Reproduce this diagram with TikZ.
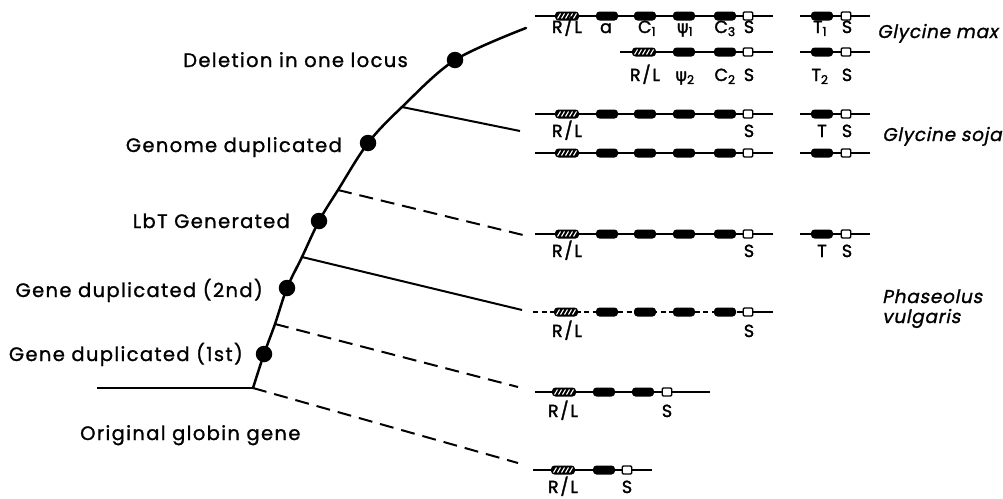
\documentclass[tikz,border=0pt]{standalone}
\usepackage{fontspec}
\setmainfont{Poppins}
\newfontfamily\grk[FakeBold=1.5]{DejaVu Sans}
\newfontfamily\stfont[FakeBold=1.2, LetterSpace=7]{Poppins}
\newfontfamily\glfont[FakeBold=1.8, LetterSpace=10]{Poppins}
\newfontfamily\spfont[FakeSlant=0.2, FakeBold=1.2, LetterSpace=4]{Poppins}
\begin{document}
\begin{tikzpicture}[x=1pt,y=-1pt,
  curve/.style={line width=2.5pt},
  branch/.style={line width=2pt},
  dashbranch/.style={branch, dash pattern=on 14pt off 8pt},
  rowline/.style={line width=1.3pt},
  gene/.style={fill=black, rounded corners=3.5pt, minimum width=22pt, minimum height=9pt, inner sep=0pt, outer sep=0pt},
  hgene/.style={gene, minimum width=24pt, path picture={
      \foreach \k in {-2,...,2}{\draw[white, line width=1.1pt]
        ([xshift=\k*4pt-1.5pt, yshift=-2.5pt]path picture bounding box.center) -- ++(3pt,5pt);}}},
  sgene/.style={draw, line width=1.4pt, fill=white, rounded corners=1.2pt, minimum width=9.5pt, minimum height=8pt, inner sep=0pt},
  dot/.style={circle, fill=black, minimum size=16.5pt, inner sep=0pt},
  glab/.style={font=\glfont\fontsize{17.5}{17.5}\selectfont, inner sep=0pt, anchor=base},
  stage/.style={font=\stfont\fontsize{19.5}{19.5}\selectfont, inner sep=0pt, anchor=base east},
  species/.style={font=\spfont\fontsize{18.5}{20}\selectfont, inner sep=0pt, anchor=base west, align=left}
]
\useasboundingbox (0,0) rectangle (1003,498);

% ---- tree ----
\coordinate (h0) at (97,388);
\coordinate (root) at (253,388);
\coordinate (d1) at (264,354);
\coordinate (b4) at (275,324);
\coordinate (d2) at (287,288);
\coordinate (b3) at (302,257);
\coordinate (d3) at (319,221);
\coordinate (b2) at (338,190);
\coordinate (d4) at (368,143);
\coordinate (b1) at (402,107);
\coordinate (d5) at (455,60);
\coordinate (cend) at (526,28);
\draw[curve, line cap=round] plot[smooth, tension=0.55] coordinates {(root) (d1) (b4) (d2) (b3) (d3) (b2) (d4) (b1) (d5) (cend)};
\draw[curve] (h0) -- (root);

\coordinate (e1) at (520,131);
\coordinate (e2) at (523,235);
\coordinate (e3) at (522,310);
\coordinate (e4) at (518,387);
\coordinate (e5) at (518,463);
\draw[branch] (b1) -- (e1);
\draw[dashbranch] (b2) -- (e2);
\draw[branch] (b3) -- (e3);
\draw[dashbranch] (b4) -- (e4);
\draw[dashbranch] (root) -- (e5);

\foreach \d in {d1,d2,d3,d4,d5} \node[dot] (n\d) at (\d) {};

% ---- stage labels ----
\node[stage] (s5) at (408,67) {Deletion in one locus};
\node[stage] (s4) at (342,152) {Genome duplicated};
\node[stage] (s3) at (290,228) {LbT Generated};
\node[stage] (s2) at (263,297) {Gene duplicated (2nd)};
\node[stage] (s1) at (243,361) {Gene duplicated (1st)};
\node[stage, anchor=base west] (s0) at (80,440) {Original globin gene};

% ---- full rows ----
\foreach \r/\y in {1/16,3/114,4/153,5/234}{
  \coordinate (r\r a) at (535,\y);
  \coordinate (r\r b) at (773,\y);
  \draw[rowline] (r\r a) -- (r\r b);
  \node[hgene] (r\r h) at (567,\y) {};
  \foreach \i/\x in {1/607,2/645,3/684,4/725} \node[gene] (r\r g\i) at (\x,\y) {};
  \node[sgene] (r\r s) at (748,\y) {};
}
% T sections
\foreach \r/\y in {1/16,2/52,3/114,4/153,5/234}{
  \coordinate (t\r a) at (800,\y);
  \coordinate (t\r b) at (870,\y);
  \draw[rowline] (t\r a) -- (t\r b);
  \node[gene] (t\r g) at (822,\y) {};
  \node[sgene] (t\r s) at (846,\y) {};
}
% row 2
\coordinate (r2a) at (620,52);
\coordinate (r2b) at (773,52);
\draw[rowline] (r2a) -- (r2b);
\node[hgene] (r2h) at (644,52) {};
\node[gene] (r2g1) at (684,52) {};
\node[gene] (r2g2) at (725,52) {};
\node[sgene] (r2s) at (748,52) {};
% row 6 (Phaseolus)
\coordinate (r6a) at (533,312);
\coordinate (r6m) at (737,312);
\coordinate (r6b) at (773,312);
\draw[rowline, dash pattern=on 5pt off 3.5pt] (r6a) -- (r6m);
\draw[rowline] (r6m) -- (r6b);
\node[hgene] (r6h) at (566,312) {};
\foreach \i/\x in {1/607,2/645,3/684,4/725} \node[gene] (r6g\i) at (\x,312) {};
\node[sgene] (r6s) at (748,312) {};
% row 7
\coordinate (r7a) at (535,392);
\coordinate (r7b) at (710,392);
\draw[rowline] (r7a) -- (r7b);
\node[hgene] (r7h) at (564,392) {};
\node[gene] (r7g1) at (604,392) {};
\node[gene] (r7g2) at (643,392) {};
\node[sgene] (r7s) at (667,392) {};
% row 8
\coordinate (r8a) at (533,470);
\coordinate (r8b) at (652,470);
\draw[rowline] (r8a) -- (r8b);
\node[hgene] (r8h) at (563,470) {};
\node[gene] (r8g1) at (604,470) {};
\node[sgene] (r8s) at (627,470) {};

% ---- gene labels ----
\node[glab] (l1a) at (567,33) {R/L};
\node[glab] (l1b) at (606,33) {a};
\node[glab] (l1c) at (647,33) {C\textsubscript{1}};
\node[glab] (l1d) at (685,33) {{\grk ψ}\textsubscript{1}};
\node[glab] (l1e) at (725,33) {C\textsubscript{3}};
\node[glab] (l1f) at (749,33) {S};
\node[glab] (l1g) at (820,33) {T\textsubscript{1}};
\node[glab] (l1h) at (847,33) {S};
\node[glab] (l2a) at (645,81) {R/L};
\node[glab] (l2b) at (685,81) {{\grk ψ}\textsubscript{2}};
\node[glab] (l2c) at (725,81) {C\textsubscript{2}};
\node[glab] (l2d) at (749,81) {S};
\node[glab] (l2e) at (820,81) {T\textsubscript{2}};
\node[glab] (l2f) at (847,81) {S};
\node[glab] (l3a) at (567,137) {R/L};
\node[glab] (l3b) at (749,137) {S};
\node[glab] (l3c) at (822,137) {T};
\node[glab] (l3d) at (847,137) {S};
\node[glab] (l5a) at (567,257) {R/L};
\node[glab] (l5b) at (749,257) {S};
\node[glab] (l5c) at (822,257) {T};
\node[glab] (l5d) at (847,257) {S};
\node[glab] (l6a) at (567,337) {R/L};
\node[glab] (l6b) at (749,337) {S};
\node[glab] (l7a) at (563,417) {R/L};
\node[glab] (l7b) at (667,417) {S};
\node[glab] (l8a) at (563,493) {R/L};
\node[glab] (l8b) at (627,493) {S};

% ---- species ----
\node[species] (gmax) at (877,38) {Glycine max};
\node[species] (gsoja) at (882,141) {Glycine soja};
\node[species] (phas) at (882,323) {Phaseolus\\vulgaris};
\end{tikzpicture}
\end{document}
